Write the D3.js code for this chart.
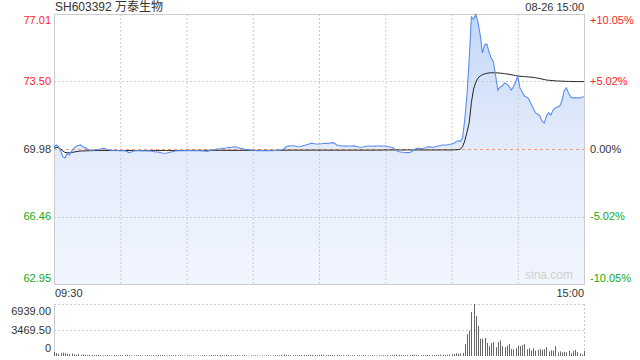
<!DOCTYPE html>
<html>
<head>
<meta charset="utf-8">
<script src="https://cdn.jsdelivr.net/npm/d3@7"></script>
<style>
  body { margin: 0; background: #fff; }
  svg text { font-family: "Liberation Sans", Arial, "Noto Sans CJK SC", sans-serif; }
</style>
</head>
<body>
<svg id="chart" width="640" height="360"></svg>
<script>
// ---- data (one value per trading minute, 09:30 .. 15:00) ----
var stockTitle = "SH603392 万泰生物";
var dateLabel = "08-26 15:00";
var prevClose = 69.98;
var priceTicks = [77.01, 73.50, 69.98, 66.46, 62.95];
var pctTicks = ["+10.05%", "+5.02%", "0.00%", "-5.02%", "-10.05%"];
var volTicks = [6939, 3469.5, 0];
var timeLabels = ["09:30", "15:00"];

var prices = [
  70.10, 70.19, 70.10, 69.89, 69.58, 69.51, 69.76, 69.67, 69.88, 70.03,
  70.11, 70.16, 70.19, 70.10, 70.06, 69.98, 69.93, 69.90, 69.93, 69.95,
  69.93, 69.98, 70.02, 70.01, 69.95, 69.93, 69.93, 69.90, 69.93, 69.90,
  69.89, 69.90, 69.89, 69.85, 69.79, 69.82, 69.88, 69.89, 69.90, 69.89,
  69.88, 69.89, 69.88, 69.89, 69.88, 69.85, 69.82, 69.82, 69.80, 69.77,
  69.76, 69.77, 69.80, 69.82, 69.85, 69.88, 69.89, 69.89, 69.90, 69.89,
  69.89, 69.90, 69.89, 69.90, 69.89, 69.90, 69.89, 69.88, 69.88, 69.85,
  69.88, 69.90, 69.93, 69.95, 69.98, 69.98, 70.01, 70.02, 70.03, 70.07,
  70.06, 70.08, 70.10, 70.07, 70.03, 70.02, 69.98, 69.96, 69.95, 69.93,
  69.93, 69.90, 69.89, 69.89, 69.90, 69.89, 69.89, 69.90, 69.89, 69.89,
  69.90, 69.91, 69.93, 69.93, 69.98, 70.08, 70.13, 70.15, 70.15, 70.14,
  70.11, 70.10, 70.11, 70.16, 70.19, 70.21, 70.27, 70.28, 70.25, 70.24,
  70.24, 70.25, 70.27, 70.28, 70.27, 70.29, 70.31, 70.29, 70.19, 70.16,
  70.14, 70.14, 70.13, 70.14, 70.14, 70.13, 70.14, 70.11, 70.08, 70.07,
  70.08, 70.11, 70.14, 70.14, 70.12, 70.13, 70.14, 70.14, 70.13, 70.14,
  70.14, 70.11, 70.08, 70.07, 70.01, 69.90, 69.85, 69.82, 69.81, 69.80,
  69.79, 69.79, 69.85, 69.93, 70.01, 70.02, 70.01, 70.02, 70.03, 70.08,
  70.10, 70.08, 70.07, 70.11, 70.14, 70.16, 70.19, 70.19, 70.19, 70.21,
  70.24, 70.27, 70.34, 70.42, 70.37, 70.55, 71.49, 72.79, 74.62, 76.86,
  76.75, 76.98, 76.59, 75.92, 74.98, 75.40, 75.45, 75.03, 74.72, 74.51,
  73.78, 73.05, 73.21, 73.26, 73.42, 73.37, 73.26, 73.05, 73.21, 73.47,
  73.78, 73.16, 72.95, 72.74, 72.69, 72.58, 72.32, 72.12, 71.86, 71.80,
  71.70, 71.44, 71.33, 71.70, 71.86, 71.75, 72.01, 72.12, 72.17, 72.22,
  72.48, 73.00, 73.16, 72.90, 72.69, 72.64, 72.64, 72.64, 72.64, 72.69,
  72.69
];

var avgPrices = [
  70.02, 70.06, 70.05, 69.98, 69.88, 69.80, 69.79, 69.78, 69.80, 69.82,
  69.84, 69.86, 69.87, 69.88, 69.88, 69.89, 69.89, 69.89, 69.90, 69.90,
  69.90, 69.90, 69.90, 69.90, 69.90, 69.90, 69.90, 69.90, 69.90, 69.90,
  69.90, 69.90, 69.90, 69.90, 69.90, 69.90, 69.90, 69.90, 69.90, 69.90,
  69.90, 69.90, 69.90, 69.90, 69.90, 69.90, 69.90, 69.90, 69.90, 69.90,
  69.90, 69.90, 69.90, 69.90, 69.90, 69.90, 69.90, 69.90, 69.90, 69.90,
  69.91, 69.91, 69.91, 69.91, 69.91, 69.91, 69.91, 69.91, 69.91, 69.91,
  69.91, 69.91, 69.91, 69.91, 69.91, 69.91, 69.91, 69.91, 69.91, 69.91,
  69.91, 69.91, 69.91, 69.91, 69.91, 69.91, 69.91, 69.91, 69.91, 69.91,
  69.91, 69.91, 69.91, 69.91, 69.91, 69.91, 69.91, 69.91, 69.91, 69.91,
  69.91, 69.91, 69.91, 69.91, 69.91, 69.92, 69.92, 69.92, 69.92, 69.92,
  69.92, 69.92, 69.92, 69.92, 69.92, 69.92, 69.92, 69.92, 69.92, 69.92,
  69.92, 69.92, 69.92, 69.92, 69.92, 69.92, 69.92, 69.92, 69.92, 69.92,
  69.92, 69.92, 69.92, 69.92, 69.92, 69.92, 69.92, 69.92, 69.92, 69.92,
  69.92, 69.92, 69.92, 69.92, 69.92, 69.92, 69.92, 69.92, 69.92, 69.93,
  69.93, 69.93, 69.93, 69.93, 69.93, 69.93, 69.93, 69.93, 69.93, 69.93,
  69.93, 69.93, 69.93, 69.93, 69.93, 69.93, 69.93, 69.93, 69.93, 69.93,
  69.93, 69.93, 69.93, 69.93, 69.93, 69.93, 69.93, 69.93, 69.93, 69.93,
  69.93, 69.94, 69.94, 69.95, 69.97, 70.10, 70.40, 70.85, 71.33, 72.40,
  73.10, 73.45, 73.68, 73.78, 73.85, 73.89, 73.92, 73.94, 73.95, 73.95,
  73.95, 73.94, 73.93, 73.92, 73.90, 73.89, 73.87, 73.85, 73.83, 73.80,
  73.78, 73.77, 73.76, 73.75, 73.74, 73.73, 73.72, 73.71, 73.69, 73.67,
  73.65, 73.62, 73.60, 73.57, 73.56, 73.55, 73.54, 73.53, 73.52, 73.52,
  73.51, 73.51, 73.50, 73.50, 73.50, 73.49, 73.49, 73.49, 73.49, 73.49,
  73.49
];

var volumes = [
  520, 380, 290, 410, 450, 360, 300, 250, 330, 210, 180, 240, 160, 200, 150, 120, 170, 140, 110, 130,
  150, 120, 90, 110, 140, 100, 80, 120, 90, 110, 130, 100, 150, 170, 120, 90, 80, 110, 100, 90,
  70, 90, 110, 80, 100, 90, 120, 140, 110, 130, 90, 80, 100, 70, 90, 110, 80, 70, 90, 60,
  80, 100, 70, 90, 60, 80, 70, 90, 110, 80, 100, 120, 90, 130, 110, 140, 120, 100, 150, 130,
  110, 90, 100, 120, 80, 70, 90, 80, 60, 70, 90, 80, 70, 60, 80, 70, 90, 60, 70, 80,
  70, 90, 100, 160, 210, 150, 130, 110, 90, 100, 120, 110, 130, 150, 120, 140, 170, 130, 110, 100,
  120, 180, 140, 110, 130, 150, 120, 100, 160, 110, 90, 100, 80, 90, 70, 80, 100, 90, 110, 80,
  90, 100, 80, 70, 90, 80, 70, 90, 80, 100, 90, 120, 110, 130, 160, 190, 140, 120, 110, 100,
  130, 110, 150, 170, 140, 120, 100, 110, 130, 150, 120, 140, 110, 130, 160, 180, 150, 140, 170, 190,
  220, 260, 360, 300, 350, 420,
  1620, 2910, 3380, 5870, 6939, 5320, 4020, 2310, 2310, 2400,
  1735, 1320, 1735, 1870, 1180, 1870, 2080, 1320, 1180, 1390,
  1600, 900, 900, 1040, 1390, 1320, 1460, 1600, 900, 1040,
  760, 1040, 690, 830, 900, 830, 900, 1180, 620, 760,
  690, 1320, 490, 620, 490, 555, 490, 690, 350, 690,
  830, 555, 350, 210, 690
];

// ---- layout ----
var svg = d3.select("#chart");
var left = 54, right = 584;
var mainTop = 14, mainBottom = 284;
var volTop = 304, volBottom = 356;
var red = "#f22", green = "#1a1", dark = "#333", grid = "#ccc";

var x = d3.scaleLinear().domain([0, 240]).range([left, right]);
var y = d3.scaleLinear().domain([priceTicks[4], priceTicks[0]]).range([mainBottom, mainTop]);
var yv = d3.scaleLinear().domain([0, volTicks[0]]).range([volBottom, volTop]);

var colorOf = function (v) {
    if (v > prevClose + 0.001) return red;
    if (v < prevClose - 0.001) return green;
    return dark;
};

// gradient for the area under the price line
var grad = svg.append("defs").append("linearGradient")
    .attr("id", "areaFill")
    .attr("gradientUnits", "userSpaceOnUse")
    .attr("x1", 0).attr("y1", mainTop).attr("x2", 0).attr("y2", mainBottom);
grad.append("stop").attr("offset", "0%").attr("stop-color", "#c3d6f8");
grad.append("stop").attr("offset", "45%").attr("stop-color", "#e2ebfb");
grad.append("stop").attr("offset", "100%").attr("stop-color", "#f1f5fe");

// area
var area = d3.area()
    .x(function (d, i) { return x(i); })
    .y0(mainBottom)
    .y1(function (d) { return y(d); });
svg.append("path")
    .datum(prices)
    .attr("d", area)
    .attr("fill", "url(#areaFill)");

// vertical grid (every 30 minutes)
var minuteTicks = d3.range(30, 240, 30);
svg.append("g")
    .selectAll("line")
    .data(minuteTicks)
    .enter()
    .append("line")
    .attr("x1", function (d) { return x(d) + 0.5; })
    .attr("x2", function (d) { return x(d) + 0.5; })
    .attr("y1", mainTop)
    .attr("y2", mainBottom)
    .attr("stroke", grid)
    .attr("stroke-dasharray", "2,2");

// horizontal grid
svg.append("g")
    .selectAll("line")
    .data([priceTicks[1], priceTicks[3]])
    .enter()
    .append("line")
    .attr("x1", left)
    .attr("x2", right)
    .attr("y1", function (d) { return Math.round(y(d)) + 0.5; })
    .attr("y2", function (d) { return Math.round(y(d)) + 0.5; })
    .attr("stroke", grid)
    .attr("stroke-dasharray", "2,2");

// previous close line
svg.append("line")
    .attr("x1", left)
    .attr("x2", right)
    .attr("y1", Math.round(y(prevClose)) + 0.5)
    .attr("y2", Math.round(y(prevClose)) + 0.5)
    .attr("stroke", "#ee9c76")
    .attr("stroke-dasharray", "3,3");

// frame
svg.append("rect")
    .attr("x", left + 0.5)
    .attr("y", mainTop + 0.5)
    .attr("width", right - left)
    .attr("height", mainBottom - mainTop)
    .attr("fill", "none")
    .attr("stroke", grid);

// price + average lines
var line = d3.line()
    .x(function (d, i) { return x(i); })
    .y(function (d) { return y(d); });
svg.append("path")
    .datum(avgPrices)
    .attr("d", line)
    .attr("fill", "none")
    .attr("stroke", "#222")
    .attr("stroke-width", 1);
svg.append("path")
    .datum(prices)
    .attr("d", line)
    .attr("fill", "none")
    .attr("stroke", "#5a8dee")
    .attr("stroke-width", 1.1);

// left price labels
svg.append("g")
    .selectAll("text")
    .data(priceTicks)
    .enter()
    .append("text")
    .attr("x", left - 3)
    .attr("y", function (d, i) {
        if (i == 0) return y(d) + 6;
        if (i == priceTicks.length - 1) return y(d) - 6;
        return y(d);
    })
    .attr("dy", "0.35em")
    .attr("text-anchor", "end")
    .attr("font-size", 11)
    .attr("fill", function (d) { return colorOf(d); })
    .text(function (d) { return d.toFixed(2); });

// right percentage labels
svg.append("g")
    .selectAll("text")
    .data(pctTicks)
    .enter()
    .append("text")
    .attr("x", right + 6)
    .attr("y", function (d, i) {
        var v = priceTicks[i];
        if (i == 0) return y(v) + 6;
        if (i == pctTicks.length - 1) return y(v) - 6;
        return y(v);
    })
    .attr("dy", "0.35em")
    .attr("font-size", 11)
    .attr("fill", function (d, i) { return colorOf(priceTicks[i]); })
    .text(function (d) { return d; });

// title + date
svg.append("text")
    .attr("x", left + 1)
    .attr("y", 11)
    .attr("font-size", 12)
    .attr("fill", dark)
    .text(stockTitle);
svg.append("text")
    .attr("x", right)
    .attr("y", 11)
    .attr("text-anchor", "end")
    .attr("font-size", 11)
    .attr("fill", dark)
    .text(dateLabel);

// watermark
svg.append("text")
    .attr("x", right - 11)
    .attr("y", mainBottom - 5)
    .attr("text-anchor", "end")
    .attr("font-size", 12)
    .attr("fill", "#d0d0d0")
    .text("sina.com");

// time labels
svg.append("text")
    .attr("x", left + 1)
    .attr("y", 297)
    .attr("font-size", 11)
    .attr("fill", dark)
    .text(timeLabels[0]);
svg.append("text")
    .attr("x", right)
    .attr("y", 297)
    .attr("text-anchor", "end")
    .attr("font-size", 11)
    .attr("fill", dark)
    .text(timeLabels[1]);

// ---- volume panel ----
svg.append("g")
    .selectAll("line")
    .data(volTicks.slice(0, 2))
    .enter()
    .append("line")
    .attr("x1", left)
    .attr("x2", right)
    .attr("y1", function (d) { return Math.round(yv(d)) + 0.5; })
    .attr("y2", function (d) { return Math.round(yv(d)) + 0.5; })
    .attr("stroke", grid)
    .attr("stroke-dasharray", "2,2");
svg.append("line")
    .attr("x1", left + 0.5).attr("x2", left + 0.5)
    .attr("y1", volTop).attr("y2", volBottom)
    .attr("stroke", grid);
svg.append("line")
    .attr("x1", right + 0.5).attr("x2", right + 0.5)
    .attr("y1", volTop).attr("y2", volBottom)
    .attr("stroke", grid)
    .attr("stroke-dasharray", "2,2");

svg.append("g")
    .selectAll("text")
    .data(volTicks)
    .enter()
    .append("text")
    .attr("x", left - 3)
    .attr("y", function (d, i) {
        if (i == 0) return yv(d) + 7;
        if (i == volTicks.length - 1) return yv(d) - 8;
        return yv(d);
    })
    .attr("dy", "0.35em")
    .attr("text-anchor", "end")
    .attr("font-size", 11)
    .attr("fill", dark)
    .text(function (d) { return d == 0 ? "0" : d.toFixed(2); });

svg.append("g")
    .selectAll("rect")
    .data(volumes)
    .enter()
    .append("rect")
    .attr("x", function (d, i) { return Math.round(x(i)); })
    .attr("y", function (d) { return yv(d); })
    .attr("width", 1)
    .attr("height", function (d) { return volBottom - yv(d); })
    .attr("fill", "#666");
</script>
</body>
</html>
